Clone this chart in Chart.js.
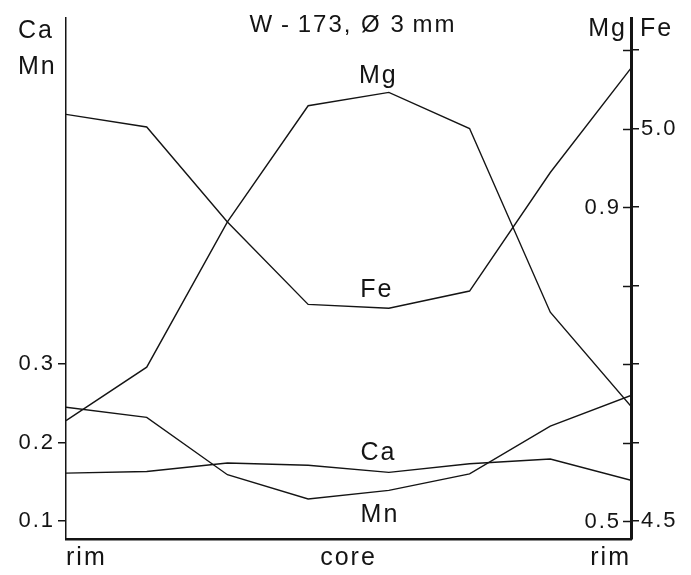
<!DOCTYPE html>
<html>
<head>
<meta charset="utf-8">
<title>W-173 profile</title>
<script src="https://cdn.jsdelivr.net/npm/chart.js@4/dist/chart.umd.min.js"></script>
<style>
  html, body { margin: 0; padding: 0; background: #fff; }
  #chart { display: block; }
</style>
</head>
<body>
<canvas id="chart" width="691" height="575"></canvas>
<script>
// Profile rim -> core -> rim, 8 analysis points
const positions = [0, 1, 2, 3, 4, 5, 6, 7];
const xTicks = [0, 3.5, 7];
const xLabels = ['rim', 'core', 'rim'];

const caValues = [0.161, 0.163, 0.174, 0.171, 0.162, 0.173, 0.179, 0.152];
const mnValues = [0.245, 0.232, 0.159, 0.128, 0.139, 0.160, 0.221, 0.260];
const mgValues = [0.628, 0.696, 0.881, 1.029, 1.046, 1.000, 0.766, 0.646];
const feValues = [5.018, 5.002, 4.881, 4.776, 4.771, 4.793, 4.944, 5.077];

const leftTicks = [0.1, 0.2, 0.3];
const leftLabels = ['0.1', '0.2', '0.3'];
const mgTicks = [0.5, 0.6, 0.7, 0.8, 0.9, 1.0, 1.1];
const mgLabels = ['0.5', '', '', '', '0.9', '', ''];
const feTicks = [4.5, 4.6, 4.7, 4.8, 4.9, 5.0, 5.1];
const feLabels = ['4.5', '', '', '', '', '5.0', ''];

const ink = '#141414';
const family = '"Liberation Sans", Arial, Helvetica, sans-serif';

Chart.defaults.font.family = family;
Chart.defaults.color = ink;

function points(values) {
    return values.map((v, i) => ({ x: positions[i], y: v }));
}

function fixedTicks(values) {
    return scale => { scale.ticks = values.map(v => ({ value: v })); };
}

function series(values, axis) {
    return {
        data: points(values),
        yAxisID: axis,
        borderColor: ink,
        borderWidth: 1.4,
        pointRadius: 0,
        tension: 0,
        fill: false
    };
}

// where the element names sit inside the plot (x on profile, y on Ca/Mn scale)
const seriesNames = [
    { text: 'Mg', x: 3.87, y: 0.658 },
    { text: 'Fe', x: 3.85, y: 0.385 },
    { text: 'Ca', x: 3.87, y: 0.178 },
    { text: 'Mn', x: 3.89, y: 0.0987 }
];

const decorations = {
    id: 'decorations',
    beforeUpdate(chart) { chart.ctx.letterSpacing = '2px'; },
    beforeDraw(chart) { chart.ctx.letterSpacing = '2px'; },
    afterDraw(chart) {
        const { ctx, chartArea, scales } = chart;
        ctx.save();
        ctx.letterSpacing = '2px';
        ctx.strokeStyle = ink;
        ctx.lineWidth = 1.5;
        ctx.fillStyle = ink;

        // right axis ticks cross the axis: inner half, with the Mg labels
        ctx.font = '22px ' + family;
        ctx.textAlign = 'right';
        ctx.textBaseline = 'middle';
        mgTicks.forEach((v, i) => {
            const y = Math.round(scales.mg.getPixelForValue(v)) + 0.5;
            ctx.beginPath();
            ctx.moveTo(chartArea.right - 8, y);
            ctx.lineTo(chartArea.right, y);
            ctx.stroke();
            if (mgLabels[i]) ctx.fillText(mgLabels[i], chartArea.right - 10, y);
        });

        ctx.font = '25px ' + family;
        ctx.textBaseline = 'alphabetic';

        // title
        ctx.textAlign = 'center';
        ctx.font = '24px ' + family;
        ctx.fillText('W\u2009-\u2009173, \u00D8 3\u2009mm', 353, 32);

        // axis names
        ctx.font = '25px ' + family;
        ctx.textAlign = 'left';
        ctx.fillText('Ca', 18, 38);
        ctx.fillText('Mn', 18, 74);
        ctx.textAlign = 'right';
        ctx.fillText('Mg', chartArea.right - 4, 36);
        ctx.textAlign = 'left';
        ctx.fillText('Fe', chartArea.right + 9, 36);

        // element names next to their curves
        ctx.textAlign = 'center';
        seriesNames.forEach(n => {
            ctx.fillText(n.text, scales.x.getPixelForValue(n.x), scales.y.getPixelForValue(n.y));
        });
        ctx.restore();
    }
};

new Chart(document.getElementById('chart'), {
    type: 'line',
    data: {
        datasets: [
            series(caValues, 'y'),
            series(mnValues, 'y'),
            series(mgValues, 'mg'),
            series(feValues, 'fe')
        ]
    },
    options: {
        responsive: false,
        animation: false,
        events: [],
        layout: { padding: { top: 18, left: 0, right: 0, bottom: 0 } },
        plugins: {
            legend: { display: false },
            title: { display: false },
            tooltip: { enabled: false }
        },
        scales: {
            x: {
                type: 'linear',
                min: 0,
                max: 7,
                afterBuildTicks: fixedTicks(xTicks),
                afterFit: s => { s.height = 36; },
                grid: { display: false, drawTicks: false },
                border: { display: true, color: ink, width: 2.5 },
                ticks: {
                    align: 'inner',
                    padding: 4,
                    font: { size: 25 },
                    callback: (v, i) => xLabels[i]
                }
            },
            y: {
                position: 'left',
                min: 0.0771,
                max: 0.7408,
                afterBuildTicks: fixedTicks(leftTicks),
                afterFit: s => { s.width = 66; },
                grid: { drawOnChartArea: false, color: ink, lineWidth: 1.5, tickLength: 8 },
                border: { display: true, color: ink, width: 1.5 },
                ticks: {
                    padding: 3,
                    font: { size: 22 },
                    callback: (v, i) => leftLabels[i]
                }
            },
            mg: {
                position: 'right',
                weight: 0,
                min: 0.4771,
                max: 1.1408,
                afterBuildTicks: fixedTicks(mgTicks),
                afterFit: s => { s.width = 0; },
                grid: { display: false, drawTicks: false },
                border: { display: false },
                ticks: { display: false }
            },
            fe: {
                position: 'right',
                weight: 1,
                min: 4.4771,
                max: 5.1408,
                afterBuildTicks: fixedTicks(feTicks),
                afterFit: s => { s.width = 60; },
                grid: { drawOnChartArea: false, color: ink, lineWidth: 1.5, tickLength: 8 },
                border: { display: true, color: ink, width: 3 },
                ticks: {
                    padding: 2,
                    font: { size: 22 },
                    callback: (v, i) => feLabels[i]
                }
            }
        }
    },
    plugins: [decorations]
});
</script>
</body>
</html>
